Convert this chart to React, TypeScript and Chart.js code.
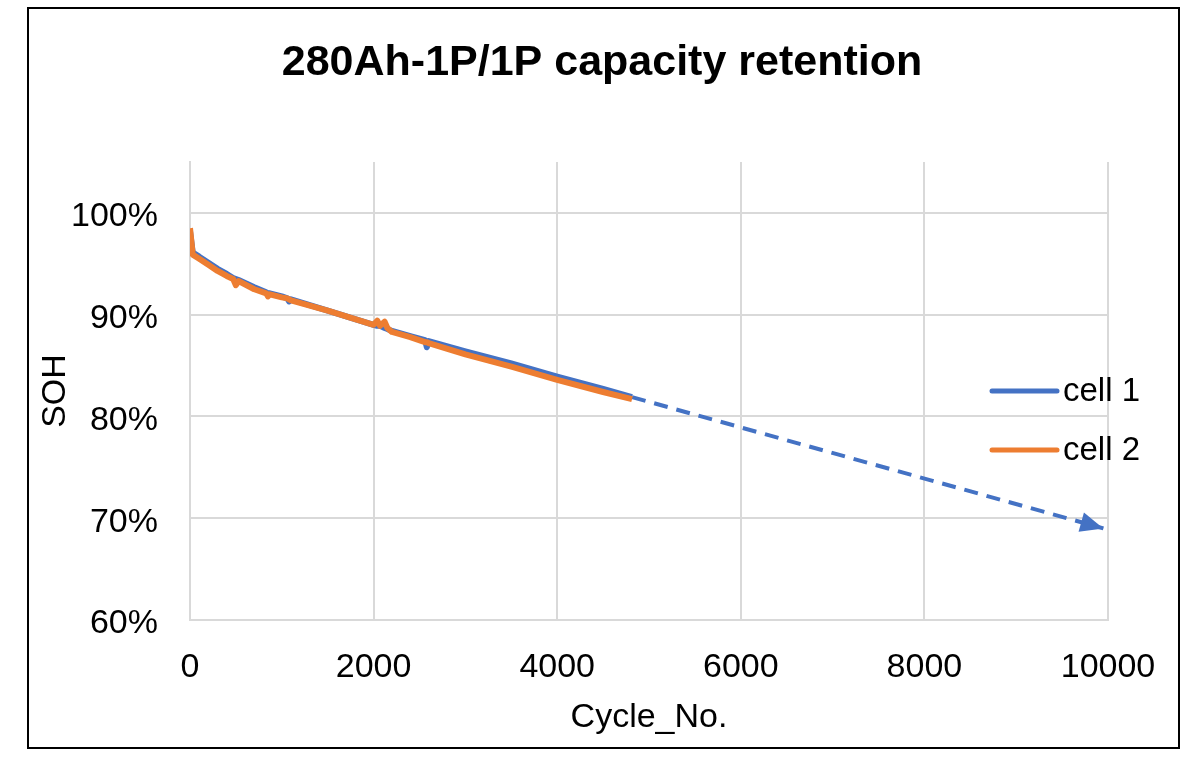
import React, { useEffect, useRef } from "react";
import { Chart, registerables } from "chart.js";

Chart.register(...registerables);

const chartTitle = "280Ah-1P/1P capacity retention";
const xAxisTitle = "Cycle_No.";
const yAxisTitle = "SOH";
const seriesNames = ["cell 1", "cell 2"];

const cycles = [0, 30, 100, 200, 300, 400, 470, 500, 530, 700, 830, 850, 870, 1000, 1060, 1080, 1100, 1500, 2000, 2040, 2070, 2120, 2150, 2200, 2400, 2560, 2580, 2600, 3000, 3500, 4000, 4500, 4815];
const cell1Soh = [98.2, 96.1, 95.7, 95.1, 94.5, 94.0, 93.6, 93.5, 93.4, 92.7, 92.2, 92.1, 92.1, 91.8, 91.6, 91.3, 91.5, 90.4, 89.0, 88.9, 88.9, 88.7, 88.6, 88.4, 87.9, 87.5, 86.8, 87.4, 86.4, 85.2, 83.9, 82.7, 81.9];
const cell2Soh = [98.5, 95.9, 95.5, 94.9, 94.3, 93.8, 93.5, 92.9, 93.3, 92.5, 92.1, 91.8, 92.0, 91.7, 91.6, 91.5, 91.4, 90.4, 89.0, 89.4, 88.9, 89.3, 88.7, 88.3, 87.8, 87.3, 87.3, 87.2, 86.1, 84.9, 83.6, 82.4, 81.7];

const projectionCycles = [4815, 9950];
const projectionSoh = [81.9, 69.0];

const xMin = 0;
const xMax = 10000;
const xStep = 2000;
const yMin = 60;
const yMax = 105;
const yStep = 10;
const yTopTick = 100;

const BLUE = "#4472C4";
const ORANGE = "#ED7D31";
const GRID = "#d9d9d9";
const FONT = "'Liberation Sans', Arial, sans-serif";

const overlayPlugin = {
  id: "overlay",
  afterDatasetsDraw(chart: any) {
    const ctx = chart.ctx;
    const xs = chart.scales.x;
    const ys = chart.scales.y;
    const n = projectionCycles.length;
    const x1 = xs.getPixelForValue(projectionCycles[n - 1]);
    const y1 = ys.getPixelForValue(projectionSoh[n - 1]);
    const x0 = xs.getPixelForValue(projectionCycles[n - 2]);
    const y0 = ys.getPixelForValue(projectionSoh[n - 2]);
    const a = Math.atan2(y1 - y0, x1 - x0);
    const L = 23;
    const W = 10;
    const c = Math.cos(a);
    const s = Math.sin(a);
    ctx.save();
    ctx.fillStyle = BLUE;
    ctx.beginPath();
    ctx.moveTo(x1, y1);
    ctx.lineTo(x1 - L * c + W * s, y1 - L * s - W * c);
    ctx.lineTo(x1 - L * c - W * s, y1 - L * s + W * c);
    ctx.closePath();
    ctx.fill();
    ctx.restore();
  },
  afterDraw(chart: any) {
    const ctx = chart.ctx;
    ctx.save();
    // chart title
    ctx.font = `bold 43px ${FONT}`;
    ctx.fillStyle = "#000";
    ctx.textAlign = "center";
    ctx.textBaseline = "middle";
    ctx.fillText(chartTitle, 602, 63);

    // legend
    const colors = [BLUE, ORANGE];
    const rows = [391, 450];
    ctx.font = `33px ${FONT}`;
    ctx.textBaseline = "middle";
    ctx.textAlign = "left";
    seriesNames.forEach((name, i) => {
      ctx.strokeStyle = colors[i];
      ctx.lineWidth = 5;
      ctx.lineCap = "round";
      ctx.beginPath();
      ctx.moveTo(992, rows[i]);
      ctx.lineTo(1057, rows[i]);
      ctx.stroke();
      ctx.fillStyle = "#000";
      ctx.fillText(name, 1063, rows[i] + 1);
    });
    ctx.restore();
  },
};

export default function App() {
  const canvasRef = useRef<HTMLCanvasElement | null>(null);

  useEffect(() => {
    if (!canvasRef.current) return;
    const chart = new Chart(canvasRef.current, {
      type: "line",
      data: {
        datasets: [
          {
            label: seriesNames[0],
            data: cycles.map((c, i) => ({ x: c, y: cell1Soh[i] })),
            borderColor: BLUE,
            borderWidth: 6,
            pointRadius: 0,
            tension: 0,
            borderJoinStyle: "round",
            order: 2,
          },
          {
            label: seriesNames[1],
            data: cycles.map((c, i) => ({ x: c, y: cell2Soh[i] })),
            borderColor: ORANGE,
            borderWidth: 6,
            pointRadius: 0,
            tension: 0,
            borderJoinStyle: "round",
            order: 1,
          },
          {
            label: "projection",
            data: projectionCycles.map((c, i) => ({ x: c, y: projectionSoh[i] })),
            borderColor: BLUE,
            borderWidth: 4,
            borderDash: [14, 9],
            pointRadius: 0,
            tension: 0,
            order: 3,
          },
        ],
      },
      options: {
        responsive: false,
        animation: false,
        devicePixelRatio: 1,
        layout: { padding: { left: 0, right: 92, top: 162, bottom: 0 } },
        plugins: {
          legend: { display: false },
          tooltip: { enabled: false },
          title: { display: false },
        },
        scales: {
          x: {
            type: "linear",
            min: xMin,
            max: xMax,
            afterFit: (scale: any) => {
              scale.height = 142;
            },
            ticks: {
              stepSize: xStep,
              color: "#000",
              font: { family: FONT, size: 34 },
              padding: 27,
              maxRotation: 0,
              callback: (v: any) => String(v),
            },
            grid: { color: GRID, lineWidth: 2, drawTicks: false },
            border: { display: true, color: GRID, width: 2 },
            title: {
              display: true,
              text: xAxisTitle,
              color: "#000",
              font: { family: FONT, size: 34 },
              padding: { top: 0, bottom: 24 },
            },
          },
          y: {
            type: "linear",
            min: yMin,
            max: yMax,
            afterFit: (scale: any) => {
              scale.width = 190;
            },
            afterBuildTicks: (scale: any) => {
              scale.ticks = scale.ticks.filter((t: any) => t.value <= yTopTick + 0.001);
            },
            ticks: {
              stepSize: yStep,
              color: "#000",
              font: { family: FONT, size: 34 },
              padding: 32,
              labelOffset: 4,
              callback: (v: any) => `${v}%`,
            },
            grid: { color: GRID, lineWidth: 2, drawTicks: false },
            border: { display: true, color: GRID, width: 2 },
            title: {
              display: true,
              text: yAxisTitle,
              color: "#000",
              font: { family: FONT, size: 34 },
              padding: { top: 35, bottom: 0 },
            },
          },
        },
      },
      plugins: [overlayPlugin],
    } as any);
    return () => chart.destroy();
  }, []);

  return (
    <div style={{ position: "absolute", left: 0, top: 0, width: 1200, height: 762, background: "#fff" }}>
      <canvas ref={canvasRef} width={1200} height={762} style={{ position: "absolute", left: 0, top: 0, width: 1200, height: 762 }} />
      <div
        style={{
          position: "absolute",
          left: 27,
          top: 7,
          width: 1153,
          height: 742,
          boxSizing: "border-box",
          border: "2px solid #000",
          pointerEvents: "none",
        }}
      />
    </div>
  );
}
